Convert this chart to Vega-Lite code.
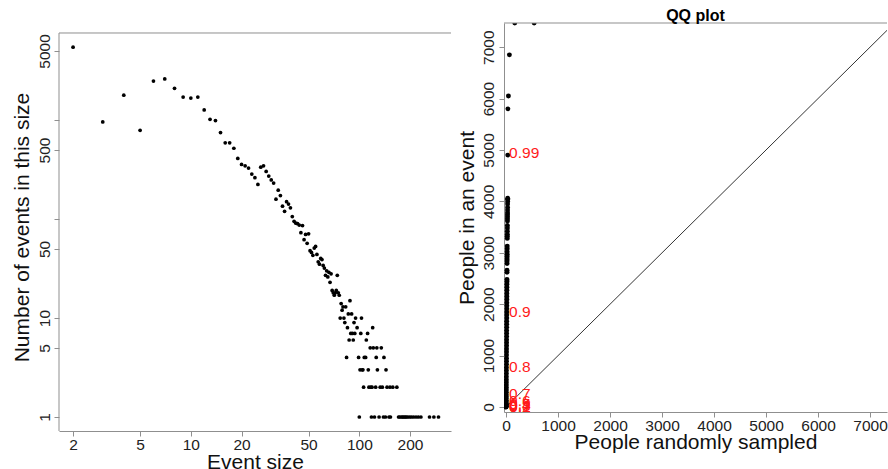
{
  "$schema": "https://vega.github.io/schema/vega-lite/v6.json",
  "background": "white",
  "padding": {"left": 10, "top": 7, "right": 0, "bottom": 0},
  "spacing": 3,
  "config": {
    "font": "Liberation Sans",
    "view": {"stroke": null},
    "axis": {
      "grid": false,
      "domain": true,
      "ticks": true,
      "domainColor": "#8f8f8f",
      "tickColor": "#8f8f8f",
      "labelColor": "#222222",
      "titleColor": "#111111",
      "labelFont": "Liberation Sans",
      "titleFont": "Liberation Sans",
      "labelFontSize": 15.5,
      "titleFontSize": 21,
      "titleFontWeight": "normal",
      "tickSize": 5,
      "domainWidth": 1,
      "tickWidth": 1,
      "labelPadding": 1,
      "labelFlush": false,
      "labelOverlap": false
    }
  },
  "datasets": {
    "freq": [
      {"size": 2, "count": 5460}, {"size": 3, "count": 960}, {"size": 4, "count": 1790}, {"size": 5, "count": 790},
      {"size": 6, "count": 2480}, {"size": 7, "count": 2610}, {"size": 8, "count": 2100}, {"size": 9, "count": 1710},
      {"size": 10, "count": 1670}, {"size": 11, "count": 1710}, {"size": 12, "count": 1270}, {"size": 13, "count": 1020},
      {"size": 14, "count": 990}, {"size": 15, "count": 750}, {"size": 16, "count": 590}, {"size": 17, "count": 590},
      {"size": 18, "count": 520}, {"size": 19, "count": 410}, {"size": 20, "count": 357}, {"size": 21, "count": 346},
      {"size": 22, "count": 328}, {"size": 23, "count": 285}, {"size": 24, "count": 262}, {"size": 25, "count": 224},
      {"size": 26, "count": 335}, {"size": 27, "count": 346}, {"size": 28, "count": 303}, {"size": 29, "count": 272},
      {"size": 30, "count": 249}, {"size": 31, "count": 231}, {"size": 32, "count": 159}, {"size": 33, "count": 196},
      {"size": 34, "count": 173}, {"size": 35, "count": 135}, {"size": 36, "count": 120}, {"size": 37, "count": 150},
      {"size": 38, "count": 142}, {"size": 39, "count": 130}, {"size": 40, "count": 106}, {"size": 41, "count": 95},
      {"size": 42, "count": 91}, {"size": 43, "count": 90}, {"size": 44, "count": 87}, {"size": 45, "count": 73},
      {"size": 46, "count": 86}, {"size": 47, "count": 62}, {"size": 48, "count": 70}, {"size": 49, "count": 57},
      {"size": 50, "count": 71}, {"size": 51, "count": 48}, {"size": 52, "count": 46}, {"size": 53, "count": 43},
      {"size": 54, "count": 51}, {"size": 55, "count": 53}, {"size": 56, "count": 44}, {"size": 57, "count": 37},
      {"size": 58, "count": 35}, {"size": 59, "count": 40}, {"size": 60, "count": 39}, {"size": 61, "count": 34},
      {"size": 62, "count": 32}, {"size": 63, "count": 27}, {"size": 64, "count": 30}, {"size": 65, "count": 26},
      {"size": 66, "count": 29}, {"size": 67, "count": 23}, {"size": 68, "count": 28}, {"size": 69, "count": 19},
      {"size": 70, "count": 18}, {"size": 71, "count": 17}, {"size": 72, "count": 18}, {"size": 73, "count": 19},
      {"size": 74, "count": 27}, {"size": 75, "count": 18}, {"size": 76, "count": 17}, {"size": 77, "count": 10},
      {"size": 78, "count": 14}, {"size": 79, "count": 12}, {"size": 80, "count": 13}, {"size": 81, "count": 10},
      {"size": 82, "count": 9}, {"size": 83, "count": 13}, {"size": 84, "count": 4}, {"size": 85, "count": 8},
      {"size": 86, "count": 11}, {"size": 87, "count": 6}, {"size": 88, "count": 15}, {"size": 89, "count": 7},
      {"size": 90, "count": 11}, {"size": 91, "count": 7}, {"size": 92, "count": 6}, {"size": 93, "count": 9},
      {"size": 94, "count": 7}, {"size": 95, "count": 10}, {"size": 97, "count": 8}, {"size": 99, "count": 4},
      {"size": 100, "count": 1}, {"size": 101, "count": 3}, {"size": 102, "count": 7}, {"size": 103, "count": 10},
      {"size": 104, "count": 3}, {"size": 105, "count": 3}, {"size": 106, "count": 2}, {"size": 107, "count": 4},
      {"size": 109, "count": 4}, {"size": 110, "count": 6}, {"size": 112, "count": 7}, {"size": 113, "count": 3},
      {"size": 114, "count": 2}, {"size": 116, "count": 5}, {"size": 117, "count": 2}, {"size": 118, "count": 1},
      {"size": 119, "count": 2}, {"size": 120, "count": 8}, {"size": 121, "count": 5}, {"size": 123, "count": 1},
      {"size": 125, "count": 2}, {"size": 126, "count": 4}, {"size": 127, "count": 5}, {"size": 128, "count": 3},
      {"size": 131, "count": 1}, {"size": 133, "count": 2}, {"size": 135, "count": 5}, {"size": 137, "count": 2},
      {"size": 139, "count": 1}, {"size": 140, "count": 4}, {"size": 143, "count": 1}, {"size": 144, "count": 3},
      {"size": 146, "count": 2}, {"size": 150, "count": 1}, {"size": 152, "count": 2}, {"size": 153, "count": 1},
      {"size": 158, "count": 2}, {"size": 167, "count": 2}, {"size": 171, "count": 1}, {"size": 174, "count": 1},
      {"size": 178, "count": 1}, {"size": 181, "count": 1}, {"size": 184, "count": 1}, {"size": 187, "count": 1},
      {"size": 190, "count": 1}, {"size": 194, "count": 1}, {"size": 199, "count": 1}, {"size": 204, "count": 1},
      {"size": 210, "count": 1}, {"size": 217, "count": 1}, {"size": 224, "count": 1}, {"size": 232, "count": 1},
      {"size": 261, "count": 1}, {"size": 277, "count": 1}, {"size": 295, "count": 1}
    ],
    "qq": [
      {"sampled": 0, "event": 0}, {"sampled": 0, "event": 3}, {"sampled": 1, "event": 8}, {"sampled": 1, "event": 15},
      {"sampled": 1, "event": 25}, {"sampled": 2, "event": 40}, {"sampled": 2, "event": 55}, {"sampled": 2, "event": 75},
      {"sampled": 3, "event": 100}, {"sampled": 3, "event": 130}, {"sampled": 3, "event": 165}, {"sampled": 4, "event": 200},
      {"sampled": 4, "event": 240}, {"sampled": 4, "event": 285}, {"sampled": 5, "event": 330}, {"sampled": 5, "event": 380},
      {"sampled": 5, "event": 430}, {"sampled": 6, "event": 480}, {"sampled": 6, "event": 530}, {"sampled": 6, "event": 590},
      {"sampled": 7, "event": 650}, {"sampled": 7, "event": 710}, {"sampled": 7, "event": 770}, {"sampled": 8, "event": 830},
      {"sampled": 8, "event": 890}, {"sampled": 8, "event": 950}, {"sampled": 9, "event": 1010}, {"sampled": 9, "event": 1070},
      {"sampled": 9, "event": 1130}, {"sampled": 10, "event": 1190}, {"sampled": 10, "event": 1250}, {"sampled": 10, "event": 1310},
      {"sampled": 11, "event": 1370}, {"sampled": 11, "event": 1430}, {"sampled": 11, "event": 1490}, {"sampled": 12, "event": 1550},
      {"sampled": 12, "event": 1610}, {"sampled": 12, "event": 1670}, {"sampled": 13, "event": 1730}, {"sampled": 13, "event": 1790},
      {"sampled": 13, "event": 1850}, {"sampled": 14, "event": 1910}, {"sampled": 14, "event": 1970}, {"sampled": 14, "event": 2030},
      {"sampled": 15, "event": 2090}, {"sampled": 15, "event": 2150}, {"sampled": 15, "event": 2210}, {"sampled": 16, "event": 2270},
      {"sampled": 16, "event": 2330}, {"sampled": 16, "event": 2390}, {"sampled": 17, "event": 2440}, {"sampled": 17, "event": 2480},
      {"sampled": 18, "event": 2620}, {"sampled": 18, "event": 2660}, {"sampled": 19, "event": 2790}, {"sampled": 19, "event": 2840},
      {"sampled": 20, "event": 2880}, {"sampled": 20, "event": 2930}, {"sampled": 21, "event": 2970}, {"sampled": 21, "event": 3020},
      {"sampled": 22, "event": 3080}, {"sampled": 22, "event": 3130}, {"sampled": 23, "event": 3280}, {"sampled": 23, "event": 3320},
      {"sampled": 24, "event": 3360}, {"sampled": 24, "event": 3420}, {"sampled": 25, "event": 3480}, {"sampled": 25, "event": 3530},
      {"sampled": 26, "event": 3620}, {"sampled": 26, "event": 3660}, {"sampled": 27, "event": 3700}, {"sampled": 27, "event": 3740},
      {"sampled": 28, "event": 3780}, {"sampled": 28, "event": 3830}, {"sampled": 29, "event": 3880}, {"sampled": 29, "event": 3950},
      {"sampled": 30, "event": 4000}, {"sampled": 30, "event": 4040}, {"sampled": 31, "event": 4060}, {"sampled": 32, "event": 4900},
      {"sampled": 35, "event": 5800}, {"sampled": 45, "event": 6050}, {"sampled": 64, "event": 6850}, {"sampled": 167, "event": 7470},
      {"sampled": 540, "event": 7470}
    ],
    "quantiles": [
      {"q": "0.99", "sampled": 0, "event": 4940},
      {"q": "0.9", "sampled": 0, "event": 1850},
      {"q": "0.8", "sampled": 0, "event": 780},
      {"q": "0.7", "sampled": 0, "event": 260},
      {"q": "0.6", "sampled": 0, "event": 110},
      {"q": "0.5", "sampled": 0, "event": 60},
      {"q": "0.4", "sampled": 0, "event": 30},
      {"q": "0.3", "sampled": 0, "event": 15},
      {"q": "0.2", "sampled": 0, "event": 6},
      {"q": "0.1", "sampled": 0, "event": 2}
    ]
  },
  "hconcat": [
    {
      "width": 392,
      "height": 408,
      "layer": [
        {
          "data": {"name": "freq"},
          "mark": {"type": "circle", "size": 14, "color": "black", "opacity": 1},
          "encoding": {
            "x": {
              "field": "size", "type": "quantitative",
              "scale": {"type": "log", "domain": [1.65, 350], "nice": false},
              "axis": {"values": [2, 5, 10, 20, 50, 100, 200], "format": "d", "title": "Event size", "titlePadding": -1}
            },
            "y": {
              "field": "count", "type": "quantitative",
              "scale": {"type": "log", "domain": [0.722, 9590], "nice": false},
              "axis": {
                "values": [1, 5, 10, 50, 100, 500, 1000, 5000], "format": "d", "domain": false,
                "labelExpr": "datum.value == 100 || datum.value == 1000 ? '' : datum.label",
                "labelAngle": -90, "labelAlign": "center", "labelBaseline": "alphabetic", "labelPadding": 5,
                "title": "Number of events in this size", "titlePadding": 5
              }
            }
          }
        },
        {
          "data": {"values": [{}]},
          "mark": {"type": "rule", "color": "#8f8f8f", "strokeWidth": 1},
          "encoding": {"y": {"datum": 7600}}
        },
        {
          "data": {"values": [{}]},
          "mark": {"type": "rule", "color": "#8f8f8f", "strokeWidth": 1},
          "encoding": {"x": {"datum": 1.65}, "y": {"datum": 0.722}, "y2": {"datum": 7600}}
        }
      ]
    },
    {
      "width": 383,
      "height": 389,
      "title": {"text": "QQ plot", "fontSize": 16, "fontWeight": "bold", "offset": -14, "baseline": "alphabetic", "color": "black", "font": "Liberation Sans"},
      "layer": [
        {
          "data": {"values": [{}]},
          "mark": {"type": "rule", "color": "#333333", "strokeWidth": 1},
          "encoding": {
            "x": {"datum": -40, "type": "quantitative"},
            "y": {"datum": -40, "type": "quantitative"},
            "x2": {"datum": 7327},
            "y2": {"datum": 7327}
          }
        },
        {
          "data": {"name": "qq"},
          "mark": {"type": "circle", "size": 24, "color": "black", "opacity": 1, "clip": true},
          "encoding": {
            "x": {
              "field": "sampled", "type": "quantitative",
              "scale": {"domain": [-40, 7327], "nice": false, "zero": false},
              "axis": {"values": [0, 1000, 2000, 3000, 4000, 5000, 6000, 7000], "format": "d", "title": "People randomly sampled", "titlePadding": -2}
            },
            "y": {
              "field": "event", "type": "quantitative",
              "scale": {"domain": [-97, 7470], "nice": false, "zero": false},
              "axis": {
                "values": [0, 1000, 2000, 3000, 4000, 5000, 6000, 7000], "format": "d",
                "labelAngle": -90, "labelAlign": "center", "labelBaseline": "alphabetic", "labelPadding": 6,
                "title": "People in an event", "titlePadding": 4
              }
            }
          }
        },
        {
          "data": {"name": "quantiles"},
          "mark": {"type": "text", "color": "#ff1a1a", "fontSize": 15.5, "align": "left", "baseline": "middle", "dx": 3, "font": "Liberation Sans"},
          "encoding": {
            "x": {"field": "sampled", "type": "quantitative"},
            "y": {"field": "event", "type": "quantitative"},
            "text": {"field": "q"}
          }
        },
        {
          "data": {"values": [{}]},
          "mark": {"type": "rule", "color": "#8f8f8f", "strokeWidth": 1},
          "encoding": {"y": {"datum": 7470}}
        }
      ]
    }
  ]
}
